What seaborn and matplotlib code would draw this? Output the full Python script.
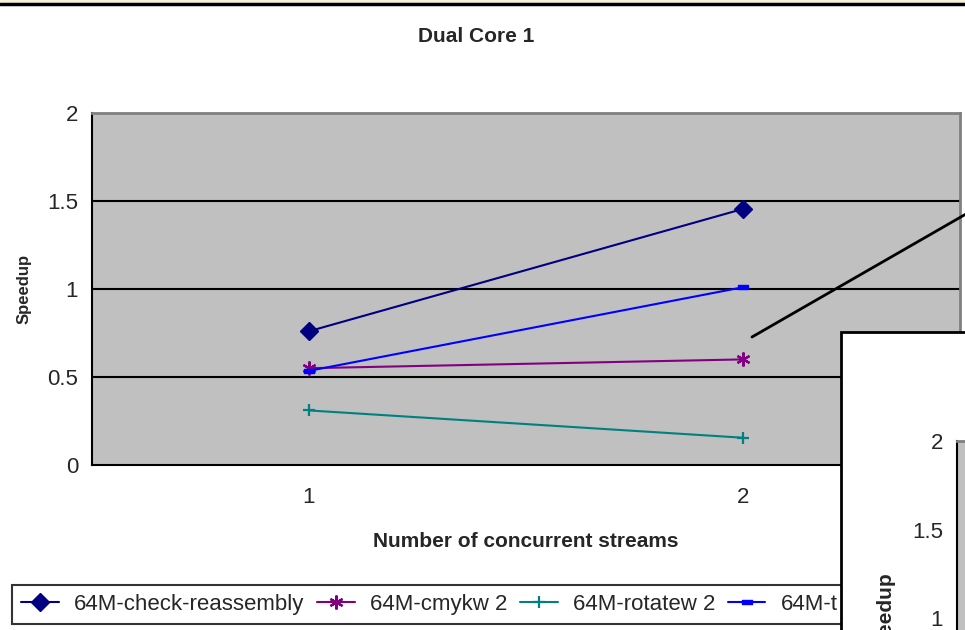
import numpy as np
import pandas as pd
import seaborn as sns
import matplotlib.pyplot as plt
from matplotlib.lines import Line2D
from matplotlib.patches import Rectangle
from matplotlib.path import Path

# Data
streams = [1, 2]
check_reassembly = [0.76, 1.455]
cmykw2 = [0.55, 0.60]
rotatew2 = [0.31, 0.155]
series_t = [0.535, 1.01]
series_names = ['64M-check-reassembly', '64M-cmykw 2', '64M-rotatew 2', '64M-t']
y_ticks = [0, 0.5, 1, 1.5, 2]
y_tick_labels = ['0', '0.5', '1', '1.5', '2']
inset_ticks = [1, 1.5, 2]
inset_tick_labels = ['1', '1.5', '2']

sns.set_style("white")
plt.rcParams['font.family'] = ['Liberation Sans', 'DejaVu Sans']

W, H = 965, 630
fig = plt.figure(figsize=(9.65, 6.3), dpi=100)
fig.patch.set_facecolor('white')

def fx(px):
    return px / W

def fy(py):
    return 1 - py / H

# main plot area
ax = fig.add_axes([fx(92), fy(465), fx(960 - 92), (465 - 113) / H])
ax.set_facecolor('#C0C0C0')

dash = Path([(-1, -0.5), (1, -0.5), (1, 0.5), (-1, 0.5), (-1, -0.5)],
            [Path.MOVETO, Path.LINETO, Path.LINETO, Path.LINETO, Path.CLOSEPOLY])
styles = [
    (check_reassembly, '#000080', 'D', 9, 1.0),
    (cmykw2, '#800080', (6, 2, 0), 10, 1.6),
    (rotatew2, '#008080', '+', 9, 1.6),
    (series_t, '#0000FF', dash, 7, 1.0),
]
handles = []
for (vals, col, mk, ms, mew), name in zip(styles, series_names):
    df = pd.DataFrame({'x': streams, 'y': vals})
    sns.lineplot(data=df, x='x', y='y', ax=ax, color=col, lw=1.5, marker=mk,
                 markersize=ms, markeredgewidth=mew, markeredgecolor=col,
                 markerfacecolor=col, zorder=3)
    handles.append(Line2D([], [], color=col, lw=1.5, marker=mk, markersize=ms,
                          markeredgewidth=mew, markeredgecolor=col,
                          markerfacecolor=col))

ax.set_xlim(0.5, 2.5)
ax.set_ylim(0, 2)
ax.set_yticks(y_ticks)
ax.set_yticklabels(y_tick_labels, fontsize=16)
for v in y_ticks[1:-1]:
    ax.axhline(v, color='black', lw=1.5, zorder=1)
ax.tick_params(axis='y', direction='out', length=6, width=1.5, color='black', pad=4)

ax.set_xticks([0.5, 1.5, 2.5])
ax.set_xticklabels([])
ax.set_xticks(streams, minor=True)
ax.set_xticklabels([str(s) for s in streams], minor=True, fontsize=16)
ax.tick_params(axis='x', which='major', direction='out', length=6, width=1.5, color='black')
ax.tick_params(axis='x', which='minor', length=0, pad=16)

for s in ['left', 'bottom']:
    ax.spines[s].set_color('black')
    ax.spines[s].set_linewidth(1.5)
for s in ['top', 'right']:
    ax.spines[s].set_color('#808080')
    ax.spines[s].set_linewidth(2)

ax.set_xlabel('Number of concurrent streams', fontsize=15, fontweight='bold', labelpad=17)
ax.set_ylabel('Speedup', fontsize=12, fontweight='bold', labelpad=11)

leg = ax.legend(handles, series_names, ncol=4, loc='lower left',
                bbox_to_anchor=(fx(12), fy(624)), bbox_transform=fig.transFigure,
                fontsize=16, frameon=True, fancybox=False, borderpad=0.4,
                handlelength=1.7, handletextpad=0.7, columnspacing=0.55,
                borderaxespad=0)
leg.get_frame().set_edgecolor('black')
leg.get_frame().set_linewidth(1.5)

fig.suptitle('Dual Core 1', x=fx(476), y=fy(37), va='center', fontsize=15, fontweight='bold')

# top border
fig.add_artist(Rectangle((0, fy(2.5)), 1, 2.5 / H, transform=fig.transFigure,
                         facecolor='#F7F2DE', edgecolor='none', zorder=8))
fig.add_artist(Line2D([0, 1], [fy(3.5), fy(3.5)], transform=fig.transFigure,
                      color='black', lw=2.5, zorder=8))

# pointer line
fig.add_artist(Line2D([fx(752), fx(966)], [fy(337), fy(214)], transform=fig.transFigure,
                      color='black', lw=2, zorder=4))

# overlapping second chart
fig.add_artist(Rectangle((fx(841), fy(700)), 0.3, (700 - 332) / H, transform=fig.transFigure,
                         facecolor='white', edgecolor='black', lw=2, zorder=5))
ax2 = fig.add_axes([fx(957), fy(795), 0.5, 354 / H], zorder=6)
ax2.set_facecolor('#C0C0C0')
ax2.set_ylim(0, 2)
ax2.set_xlim(0, 1)
ax2.set_yticks(inset_ticks)
ax2.set_yticklabels(inset_tick_labels, fontsize=16)
ax2.set_xticks([])
ax2.tick_params(axis='y', direction='out', length=6, width=1.5, color='black', pad=4)
ax2.spines['left'].set_color('black')
ax2.spines['left'].set_linewidth(1.5)
ax2.spines['top'].set_color('#808080')
ax2.spines['top'].set_linewidth(2)
fig.text(fx(886), fy(572), 'Speedup', rotation=90, ha='center', va='top',
         fontsize=15, fontweight='bold', zorder=7)

fig.savefig('out.png', dpi=100)
